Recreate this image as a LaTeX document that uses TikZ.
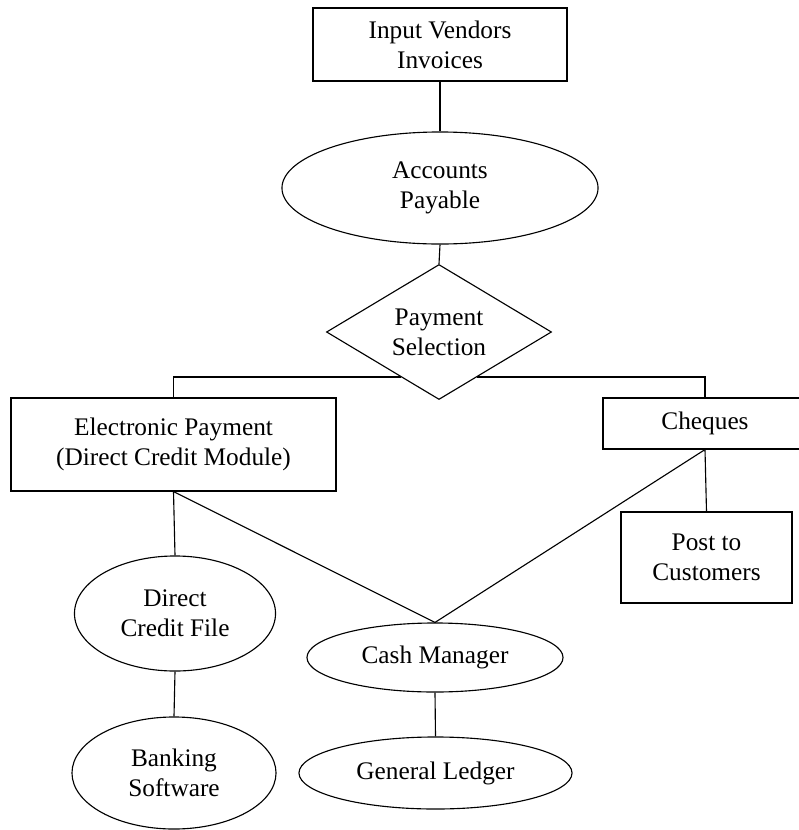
\documentclass[tikz,border=0pt]{standalone}
\usepackage{fontspec}
\setmainfont{Liberation Serif}
\usetikzlibrary{shapes.geometric,calc}
\tikzset{
box/.style={draw, rectangle, align=center, inner sep=0pt},
oval/.style={draw, ellipse, align=center, inner sep=0pt},
choice/.style={draw, diamond, aspect=1.67, align=center, inner sep=0pt}
}

\begin{document}
\begin{tikzpicture}[x=0.025cm, y=-0.025cm, line width=0.8pt, font=\fontsize{18}{21.3}\selectfont]
	\useasboundingbox (0,0) rectangle (798,830);
	\node[box, minimum width=6.35cm, minimum height=1.825cm] (inv) at (440,44.5) {Input Vendors\\Invoices};
	\node[oval, minimum width=7.9cm, minimum height=2.8cm] (ap) at (440,188) {Accounts\\Payable};
	\node[choice, minimum width=5.625cm, minimum height=3.375cm] (sel) at (439,332) {Payment\\Selection};
	\node[box, minimum width=8.125cm, minimum height=2.325cm] (epay) at (173.5,444.5) {Electronic Payment\\(Direct Credit Module)};
	\node[box, minimum width=5.1cm, minimum height=1.275cm] (chq) at (705,423.5) {Cheques};
	\node[box, minimum width=4.275cm, minimum height=2.275cm] (post) at (706.5,557.5) {Post to\\Customers};
	\node[oval, minimum width=5.025cm, minimum height=2.875cm] (dcf) at (175,613.5) {Direct\\Credit File};
	\node[oval, minimum width=5.1cm, minimum height=2.8cm] (bank) at (174,773) {Banking\\Software};
	\node[oval, minimum width=6.4cm, minimum height=1.725cm] (cash) at (435,657.5) {Cash Manager};
	\node[oval, minimum width=6.825cm, minimum height=1.8cm] (gl) at (435.5,773) {General Ledger};
	\coordinate (selL) at ($(sel.west)!.66!(sel.south)$);
	\coordinate (selR) at ($(sel.east)!.66!(sel.south)$);
	\draw (inv.south) -- (ap.north);
	\draw (ap.south) -- (sel.north);
	\draw (selL) -| (epay.north);
	\draw (selR) -| (chq.north);
	\draw (epay.south) -- (dcf.north);
	\draw (dcf.south) -- (bank.north);
	\draw (epay.south) -- (cash.north);
	\draw (chq.south) -- (cash.north);
	\draw (chq.south) -- (post.north);
	\draw (cash.south) -- (gl.north);
\end{tikzpicture}
\end{document}
